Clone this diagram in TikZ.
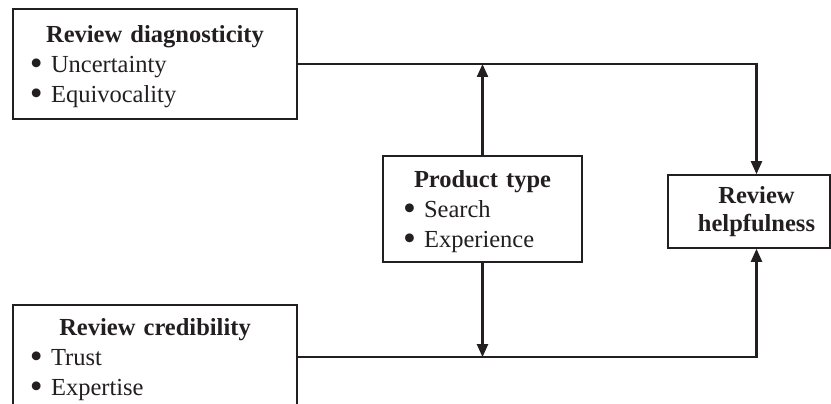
\documentclass[tikz,border=0pt]{standalone}
\usepackage{fontspec}
\setmainfont{Liberation Serif}
\usetikzlibrary{arrows.meta,calc}
\definecolor{ink}{HTML}{231F20}
\tikzset{
  box/.style={draw=ink, line width=1.6pt, text=ink, inner sep=0pt, align=left,
    font=\fontsize{24.5}{30}\selectfont},
  link/.style={draw=ink, line width=2.2pt, -{Triangle[length=13pt,width=11pt]}}
}
\newcommand{\boxhead}[1]{\makebox[\hsize]{\rule{0pt}{23pt}\textbf{#1}}}
\newcommand{\dotitem}{\smash{\raisebox{-2.6pt}{\scalebox{1.5}{\textbullet}}}\ }

\begin{document}
\begin{tikzpicture}[x=1pt,y=1pt]
      \useasboundingbox (0,0) rectangle (831,-404);
      \clip (0,0) rectangle (831,-404);
      \coordinate (hp) at (756.5,-211.5);
      \node [box, minimum width=284pt, minimum height=110pt, text width=250pt] (diag) at (155,-64)
        {\boxhead{Review diagnosticity}\\ \dotitem Uncertainty\\ \dotitem Equivocality};
      \node [box, minimum width=284pt, minimum height=104.2pt, text width=250pt] (cred) at (155,-357.1)
        {\boxhead{Review credibility}\\ \dotitem Trust\\ \dotitem Expertise};
      \node [box, minimum width=199pt, minimum height=106pt, text width=159pt] (ptype) at (482.5,-209.1)
        {\boxhead{Product type}\\ \dotitem Search\\ \dotitem Experience};
      \node [box, minimum width=162pt, minimum height=73pt,
        label={[font=\fontsize{24.5}{28}\selectfont\bfseries, align=center, text=ink, xshift=7.5pt]center:{Review\\helpfulness}}]
        (helpful) at (749,-211.5) {};
      \draw [link] (diag.east) -| (helpful.north -| hp);
      \draw [link] (cred.east) -| (helpful.south -| hp);
      \draw [link] (ptype.north) -- (ptype.north |- diag.east);
      \draw [link] (ptype.south) -- (ptype.south |- cred.east);
    \end{tikzpicture}
\end{document}
